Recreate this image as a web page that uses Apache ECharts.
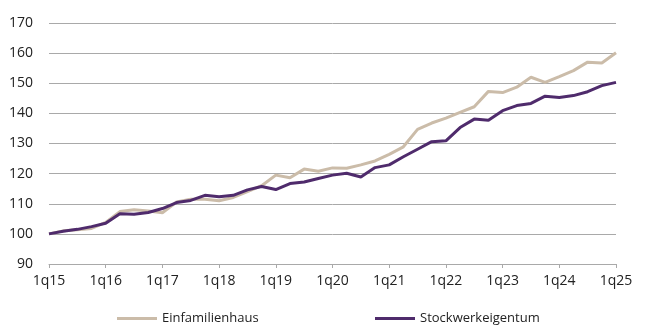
<!DOCTYPE html>
<html>
<head>
<meta charset="utf-8">
<script src="https://cdn.jsdelivr.net/npm/echarts@6/dist/echarts.min.js"></script>
<style>
html,body{margin:0;padding:0;background:#fff;}
#chart{width:653px;height:330px;}
</style>
</head>
<body>
<div id="chart"></div>
<script>
const categories = [
  "1q15","2q15","3q15","4q15",
  "1q16","2q16","3q16","4q16",
  "1q17","2q17","3q17","4q17",
  "1q18","2q18","3q18","4q18",
  "1q19","2q19","3q19","4q19",
  "1q20","2q20","3q20","4q20",
  "1q21","2q21","3q21","4q21",
  "1q22","2q22","3q22","4q22",
  "1q23","2q23","3q23","4q23",
  "1q24","2q24","3q24","4q24",
  "1q25"
];
const einfamilienhaus = [
  100, 101, 101.4, 101.8, 103.8, 107.4, 108, 107.6, 107, 110.6,
  111.5, 111.5, 111.0, 112.1, 114, 116, 119.5, 118.6, 121.5, 120.8,
  121.9, 121.8, 122.9, 124.2, 126.4, 128.9, 134.7, 136.8, 138.4, 140.3,
  142.2, 147.3, 146.9, 148.7, 152, 150.3, 152.2, 154.2, 157, 156.7,
  160.1
];
const stockwerkeigentum = [
  100, 100.9, 101.5, 102.4, 103.5, 106.7, 106.5, 107.1, 108.4, 110.4,
  111.1, 112.8, 112.3, 112.8, 114.6, 115.7, 114.7, 116.7, 117.2, 118.4,
  119.5, 120.1, 118.9, 122, 122.9, 125.6, 128.1, 130.6, 130.9, 135.3,
  138.1, 137.7, 140.9, 142.6, 143.3, 145.7, 145.3, 145.9, 147.2, 149.2,
  150.3
];
const seriesNames = ["Einfamilienhaus", "Stockwerkeigentum"];
const yTicks = { min: 90, max: 170, interval: 10 };

const FONT = "'Open Sans', sans-serif";
const BEIGE = "#cbbca9";
const PURPLE = "#4f2b6c";
const GRID = "#a9a9a9";

const chart = echarts.init(document.getElementById('chart'), null, {renderer: 'canvas'});
chart.setOption({
  animation: false,
  backgroundColor: '#fff',
  grid: { left: 49, right: 37, top: 23, height: 241, containLabel: false },
  legend: [
    {
      data: [{ name: seriesNames[0], icon: 'rect' }],
      left: 112, top: 307,
      itemWidth: 40, itemHeight: 3, itemGap: 5,
      textStyle: { fontFamily: FONT, fontSize: 13, color: '#222' }
    },
    {
      data: [{ name: seriesNames[1], icon: 'rect' }],
      left: 370, top: 307,
      itemWidth: 40, itemHeight: 3, itemGap: 5,
      textStyle: { fontFamily: FONT, fontSize: 13, color: '#222' }
    }
  ],
  xAxis: {
    type: 'category',
    data: categories,
    boundaryGap: false,
    axisLine: { show: true, lineStyle: { color: GRID, width: 1 } },
    axisTick: { show: true, interval: 3, length: 4, lineStyle: { color: GRID } },
    axisLabel: { interval: 3, margin: 10, fontFamily: FONT, fontSize: 14, color: '#222' },
    splitLine: { show: false }
  },
  yAxis: {
    type: 'value',
    min: yTicks.min, max: yTicks.max, interval: yTicks.interval,
    axisLine: { show: false },
    axisTick: { show: false },
    axisLabel: { margin: 16, fontFamily: FONT, fontSize: 14, color: '#222' },
    splitLine: { lineStyle: { color: GRID, width: 1 } }
  },
  series: [
    {
      name: seriesNames[0], type: 'line', data: einfamilienhaus,
      symbol: 'none', lineStyle: { color: BEIGE, width: 3 }, itemStyle: { color: BEIGE }
    },
    {
      name: seriesNames[1], type: 'line', data: stockwerkeigentum,
      symbol: 'none', lineStyle: { color: PURPLE, width: 3 }, itemStyle: { color: PURPLE }
    }
  ]
});
</script>
</body>
</html>
